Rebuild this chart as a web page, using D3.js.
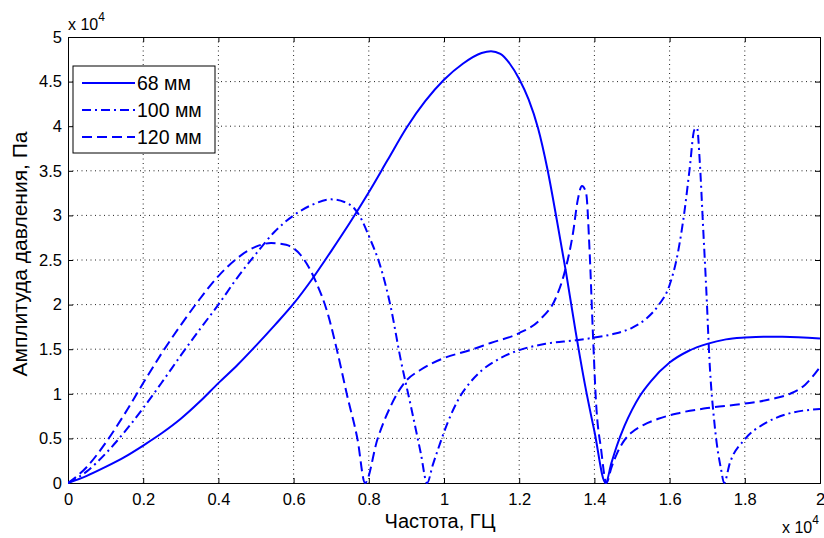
<!DOCTYPE html>
<html>
<head>
<meta charset="utf-8">
<script src="https://cdn.jsdelivr.net/npm/d3@7"></script>
<style>
  html, body { margin: 0; padding: 0; background: #fff; }
  svg text { font-family: "Liberation Sans", Arial, sans-serif; fill: #000; }
</style>
</head>
<body>
<div id="chart"></div>
<script>
// Values are in units of 10^4 (Hz on x, Pa on y)
const xTicks = [0, 0.2, 0.4, 0.6, 0.8, 1, 1.2, 1.4, 1.6, 1.8, 2];
const yTicks = [0, 0.5, 1, 1.5, 2, 2.5, 3, 3.5, 4, 4.5, 5];

const seriesNames = ["68 мм", "100 мм", "120 мм"];

// 68 mm - solid
const curve68 = [
  [0, 0], [0.05, 0.08], [0.1, 0.18], [0.15, 0.29], [0.2, 0.42], [0.25, 0.56],
  [0.3, 0.72], [0.35, 0.91], [0.4, 1.12], [0.45, 1.32], [0.5, 1.54], [0.55, 1.77],
  [0.6, 2.01], [0.65, 2.29], [0.7, 2.6], [0.75, 2.92], [0.8, 3.26], [0.85, 3.62],
  [0.9, 3.98], [0.95, 4.28], [1.0, 4.52], [1.05, 4.7], [1.1, 4.82], [1.125, 4.84],
  [1.15, 4.81], [1.175, 4.7], [1.2, 4.53], [1.225, 4.3], [1.25, 3.98], [1.275, 3.52],
  [1.3, 2.95], [1.325, 2.35], [1.35, 1.7], [1.375, 1.1], [1.4, 0.58], [1.43, 0.0],
  [1.445, 0.22], [1.46, 0.42], [1.48, 0.64], [1.5, 0.82], [1.52, 0.97], [1.55, 1.14],
  [1.6, 1.35], [1.65, 1.48], [1.7, 1.56], [1.75, 1.61], [1.8, 1.63], [1.85, 1.64],
  [1.9, 1.64], [2.0, 1.62]
];

// 100 mm - dash-dot
const curve100 = [
  [0, 0], [0.05, 0.13], [0.1, 0.33], [0.15, 0.57], [0.2, 0.84], [0.25, 1.13],
  [0.3, 1.43], [0.35, 1.72], [0.4, 2.0], [0.45, 2.3], [0.5, 2.57], [0.55, 2.82],
  [0.6, 3.0], [0.65, 3.12], [0.7, 3.18], [0.735, 3.15], [0.761, 3.08], [0.78, 2.96],
  [0.8, 2.77], [0.83, 2.44], [0.858, 1.98], [0.885, 1.38], [0.912, 0.86], [0.938, 0.34],
  [0.955, 0.0], [0.97, 0.2], [0.99, 0.45], [1.01, 0.68], [1.04, 0.95], [1.07, 1.13],
  [1.1, 1.26], [1.15, 1.4], [1.2, 1.49], [1.27, 1.56], [1.35, 1.6], [1.4, 1.63],
  [1.45, 1.67], [1.5, 1.74], [1.54, 1.85], [1.57, 1.99], [1.6, 2.22], [1.622, 2.58],
  [1.64, 3.06], [1.653, 3.51], [1.666, 3.96], [1.673, 3.98], [1.68, 3.62], [1.689, 2.88],
  [1.698, 2.13], [1.706, 1.38], [1.72, 0.64], [1.737, 0.15], [1.745, 0.0], [1.76, 0.22],
  [1.8, 0.49], [1.85, 0.66], [1.91, 0.77], [2.0, 0.83]
];

// 120 mm - dashed
const curve120 = [
  [0, 0], [0.05, 0.18], [0.1, 0.45], [0.15, 0.77], [0.2, 1.12], [0.25, 1.46],
  [0.3, 1.77], [0.35, 2.06], [0.4, 2.32], [0.45, 2.52], [0.5, 2.65], [0.54, 2.69],
  [0.58, 2.67], [0.62, 2.55], [0.66, 2.25], [0.69, 1.91], [0.717, 1.46], [0.743, 0.97],
  [0.77, 0.49], [0.79, 0.0], [0.823, 0.49], [0.858, 0.86], [0.894, 1.12], [0.938, 1.27],
  [1.0, 1.4], [1.07, 1.49], [1.124, 1.57], [1.2, 1.68], [1.255, 1.83], [1.299, 2.09],
  [1.32, 2.35], [1.343, 2.8], [1.356, 3.18], [1.367, 3.33], [1.378, 3.25], [1.387, 2.62],
  [1.396, 1.68], [1.404, 0.93], [1.418, 0.37], [1.432, 0.0], [1.445, 0.17], [1.46, 0.33],
  [1.48, 0.48], [1.5, 0.57], [1.53, 0.65], [1.57, 0.72], [1.62, 0.78], [1.7, 0.84],
  [1.8, 0.89], [1.87, 0.94], [1.92, 1.0], [1.96, 1.1], [2.0, 1.3]
];

const width = 824, height = 538;
const margin = { top: 37, right: 4, bottom: 55, left: 68 };
const plotW = width - margin.left - margin.right;
const plotH = height - margin.top - margin.bottom;

const svg = d3.select("#chart").append("svg")
  .attr("width", width)
  .attr("height", height)
  .style("display", "block");

const g = svg.append("g")
  .attr("transform", `translate(${margin.left},${margin.top})`);

const x = d3.scaleLinear().domain([0, 2]).range([0, plotW]);
const y = d3.scaleLinear().domain([0, 5]).range([plotH, 0]);

// dotted grid
g.append("g")
  .selectAll("line")
  .data(xTicks.slice(1, -1))
  .enter().append("line")
  .attr("x1", d => x(d)).attr("x2", d => x(d))
  .attr("y1", 0).attr("y2", plotH)
  .attr("stroke", "#222").attr("stroke-width", 1)
  .attr("stroke-dasharray", "1,3.5");

g.append("g")
  .selectAll("line")
  .data(yTicks.slice(1, -1))
  .enter().append("line")
  .attr("x1", 0).attr("x2", plotW)
  .attr("y1", d => y(d)).attr("y2", d => y(d))
  .attr("stroke", "#222").attr("stroke-width", 1)
  .attr("stroke-dasharray", "1,3.5");

// axes: inner ticks on all four sides, like a boxed plot
const fmt = d => String(d);
g.append("g")
  .attr("transform", `translate(0,${plotH})`)
  .call(d3.axisBottom(x).tickValues(xTicks).tickSize(-5).tickPadding(10).tickFormat(fmt));
g.append("g")
  .call(d3.axisTop(x).tickValues(xTicks).tickSize(-5).tickFormat(""));
g.append("g")
  .call(d3.axisLeft(y).tickValues(yTicks).tickSize(-5).tickPadding(6).tickFormat(fmt));
g.append("g")
  .attr("transform", `translate(${plotW},0)`)
  .call(d3.axisRight(y).tickValues(yTicks).tickSize(-5).tickFormat(""));

g.selectAll(".domain").attr("stroke", "#000");
g.selectAll(".tick line").attr("stroke", "#000");
g.selectAll(".tick text").style("font-size", "16.5px").attr("fill", "#000");

// curves
const line = d3.line()
  .x(d => x(d[0]))
  .y(d => y(d[1]))
  .curve(d3.curveMonotoneX);

const styles = [
  { data: curve68, dash: null },
  { data: curve100, dash: "9,4,2,4" },
  { data: curve120, dash: "10,5" }
];

g.append("clipPath").attr("id", "plotclip")
  .append("rect").attr("width", plotW).attr("height", plotH + 2).attr("y", -1);

g.append("g").attr("clip-path", "url(#plotclip)")
  .selectAll("path")
  .data(styles)
  .enter().append("path")
  .attr("d", d => line(d.data))
  .attr("fill", "none")
  .attr("stroke", "#0000ff")
  .attr("stroke-width", 2)
  .attr("stroke-dasharray", d => d.dash);

// legend
const legend = g.append("g").attr("transform", "translate(5,29)");
legend.append("rect")
  .attr("width", 142).attr("height", 87)
  .attr("fill", "#fff").attr("stroke", "#000").attr("stroke-width", 1);

const rows = legend.selectAll("g.row")
  .data(styles)
  .enter().append("g")
  .attr("transform", (d, i) => `translate(0,${17 + i * 27})`);

rows.append("line")
  .attr("x1", 9).attr("x2", 62)
  .attr("stroke", "#0000ff").attr("stroke-width", 2)
  .attr("stroke-dasharray", d => d.dash);

rows.append("text")
  .attr("x", 64).attr("y", 7)
  .style("font-size", "19.5px")
  .text((d, i) => seriesNames[i]);

// axis titles
svg.append("text")
  .attr("x", margin.left + plotW / 2 - 4).attr("y", 528)
  .attr("text-anchor", "middle")
  .style("font-size", "20px")
  .text("Частота, ГЦ");

svg.append("text")
  .attr("transform", "translate(27,254) rotate(-90)")
  .attr("text-anchor", "middle")
  .style("font-size", "21px")
  .text("Амплитуда давления, Па");

// exponent markers
const expTop = svg.append("text").attr("x", 68).attr("y", 30).style("font-size", "16px");
expTop.append("tspan").text("x 10");
expTop.append("tspan").attr("dy", -9).style("font-size", "12px").text("4");

const expBottom = svg.append("text").attr("x", 782).attr("y", 533).style("font-size", "16px");
expBottom.append("tspan").text("x 10");
expBottom.append("tspan").attr("dy", -9).style("font-size", "12px").text("4");
</script>
</body>
</html>
